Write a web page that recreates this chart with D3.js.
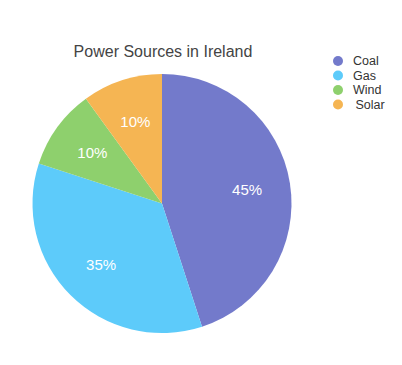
<!DOCTYPE html>
<html><head><meta charset="utf-8">
<script src="https://cdn.jsdelivr.net/npm/d3@7"></script>
<style>body{margin:0;background:#fff;}svg{display:block;font-family:"Liberation Sans",Arial,sans-serif;}</style>
</head><body><svg id="c" width="402" height="365"></svg>
<script>
const categories = ["Coal", "Gas", "Wind", "Solar"];
const values = [45, 35, 10, 10];
const colors = ["#737ACB", "#5DCBFA", "#8ED06D", "#F5B553"];
const title = "Power Sources in Ireland";

const svg = d3.select("#c");
const cx = 162, cy = 203.5, R = 129.5;
const data = categories.map((c, i) => ({cat: c, v: values[i], col: colors[i]}));
const pie = d3.pie().sort(null).value(d => d.v);
const arcs = pie(data);
const arc = d3.arc().innerRadius(0).outerRadius(R);
const labelArc = d3.arc().innerRadius(R * 0.665).outerRadius(R * 0.665);
const total = d3.sum(values);

svg.append("text").attr("x", 163).attr("y", 57).attr("text-anchor", "middle")
  .attr("font-size", 16).attr("fill", "#444").text(title);

const g = svg.append("g").attr("transform", `translate(${cx},${cy})`);
g.selectAll("path").data(arcs).join("path").attr("d", arc).attr("fill", d => d.data.col);
g.selectAll("text").data(arcs).join("text")
  .attr("transform", d => `translate(${labelArc.centroid(d)})`)
  .attr("text-anchor", "middle").attr("dy", "0.35em")
  .attr("font-size", 15).attr("fill", "#fff")
  .text(d => Math.round(d.data.v / total * 100) + "%");

const lg = svg.append("g");
const ly = d3.scalePoint().domain(categories).range([61, 104.5]);
lg.selectAll("circle").data(data).join("circle")
  .attr("cx", 338).attr("cy", d => ly(d.cat)).attr("r", 5).attr("fill", d => d.col);
lg.selectAll("text").data(data).join("text")
  .attr("x", (d, i) => i === 3 ? 355.5 : 353).attr("y", d => ly(d.cat)).attr("dy", "0.35em")
  .attr("font-size", 12.5).attr("fill", "#333").text(d => d.cat);
</script></body></html>
